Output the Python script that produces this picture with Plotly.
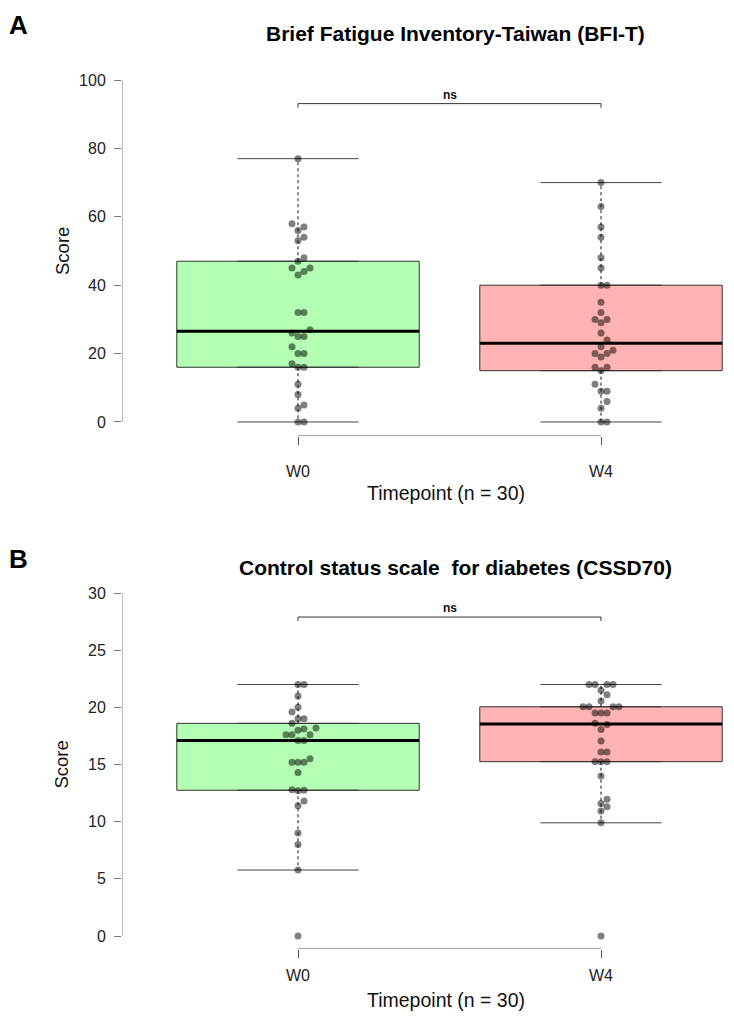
import numpy as np
import plotly.graph_objects as go

# ---------------- data ----------------
categories = ["W0", "W4"]
positions = [1, 2]

bfi_w0 = [77, 58, 57, 56, 54, 53, 48, 47, 45, 45, 44, 43, 32, 32, 27, 26, 25, 25,
          22, 20, 20, 17, 16, 16, 11, 8, 5, 4, 0, 0]
bfi_w4 = [70, 63, 57, 54, 48, 45, 40, 40, 35, 32, 30, 30, 29, 26, 24, 22, 21, 20,
          20, 19, 16, 16, 15, 11, 9, 9, 6, 4, 0, 0]
cssd_w0 = [22, 22, 21, 20, 19.6, 19, 19, 18.6, 18.2, 18.1, 18.0, 17.6, 17.6, 17.6,
           17.1, 17.1, 15.5, 15.2, 15.2, 15.2, 14.3, 12.8, 12.75, 12.7, 11.8, 11.4,
           9, 8, 5.77, 0]
cssd_w4 = [22, 22, 22, 22, 21.5, 21.1, 20.55, 20.05, 20.05, 20.05, 20.05, 19.5, 19.5,
           19.5, 18.6, 18.5, 18.07, 17.06, 16.1, 16.1, 15.25, 15.25, 15.25, 14.0,
           11.96, 11.6, 11.3, 10.93, 9.9, 0]

bfi_ticks = [0, 20, 40, 60, 80, 100]
cssd_ticks = [0, 5, 10, 15, 20, 25, 30]

title_a = "Brief Fatigue Inventory-Taiwan (BFI-T)"
title_b = "Control status scale  for diabetes (CSSD70)"
xlabel = "Timepoint (n = 30)"
ylabel = "Score"
sig_label = "ns"

# ---------------- style / layout ----------------
OFF = 8                      # page body margin
W, H = 718, 1010             # figure size (page is 734 x 1026)


def fx(page_px):
    return (page_px - OFF) / W


def fy(page_px):
    return 1 - (page_px - OFF) / H


FILLS = ["rgb(179,255,179)", "rgb(255,179,179)"]
DOT = "rgba(0,0,0,0.5)"
XRANGE = [0.4191, 2.4125]
X_DOMAIN = [fx(122), 1.0]
PX_PER_X = (W * (X_DOMAIN[1] - X_DOMAIN[0])) / (XRANGE[1] - XRANGE[0])
FONT = "Liberation Sans"

panels = [
    dict(data=[bfi_w0, bfi_w4], ticks=bfi_ticks, yrange=[-4.10, 104.39],
         domain=[fy(436), fy(65)], title=title_a, label="A",
         title_y=33, label_y=8, xlab_y=493, bracket=93.1, bdrop=1.2,
         standoff=13, ax=""),
    dict(data=[cssd_w0, cssd_w4], ticks=cssd_ticks, yrange=[-1.137, 31.14],
         domain=[fy(949), fy(580)], title=title_b, label="B",
         title_y=567, label_y=542, xlab_y=1000, bracket=27.9, bdrop=0.35,
         standoff=4, ax="2"),
]


def fivenum(v):
    x = np.sort(np.asarray(v, dtype=float))
    n = len(x)
    n4 = np.floor((n + 3) / 2) / 2
    d = np.array([1, n4, (n + 1) / 2, n + 1 - n4, n]) - 1
    return 0.5 * (x[np.floor(d).astype(int)] + x[np.ceil(d).astype(int)])


def swarm(values, px_y, px_x, sx=6.0, sy=7.0):
    vals = np.asarray(values, dtype=float)
    order = np.argsort(vals, kind="stable")
    placed = []
    offs = np.zeros(len(vals))
    cands = [0] + [s * k for k in range(1, 12) for s in (1, -1)]
    for i in order:
        y = vals[i] * px_y
        xo = 0.0
        for c in cands:
            xo = c * sx
            if all(((xo - px) / sx) ** 2 + ((y - py) / sy) ** 2 >= 1 - 1e-9
                   for px, py in placed):
                break
        placed.append((xo, y))
        offs[i] = xo / px_x
    return offs


fig = go.Figure()
annotations = []
layout_axes = {}

for p in panels:
    xa, ya = "x" + p["ax"], "y" + p["ax"]
    px_y = (H * (p["domain"][1] - p["domain"][0])) / (p["yrange"][1] - p["yrange"][0])
    for k, (vals, pos) in enumerate(zip(p["data"], positions)):
        arr = np.asarray(vals, dtype=float)
        _, q1, med, q3, _ = fivenum(arr)
        iqr = q3 - q1
        upper = arr[arr <= q3 + 1.5 * iqr].max()
        lower = arr[arr >= q1 - 1.5 * iqr].min()
        fig.add_trace(go.Box(x=[pos], q1=[q1], median=[med], q3=[q3],
                             lowerfence=[q1], upperfence=[q3], width=0.8,
                             fillcolor=FILLS[k], line=dict(color="#333333", width=1),
                             boxpoints=False, hoverinfo="skip", showlegend=False,
                             xaxis=xa, yaxis=ya))
        # dashed whiskers
        for a, b in ((q3, upper), (q1, lower)):
            fig.add_trace(go.Scatter(x=[pos, pos], y=[a, b], mode="lines",
                                     line=dict(color="#111111", width=1, dash="3px,3px"),
                                     hoverinfo="skip", showlegend=False,
                                     xaxis=xa, yaxis=ya))
        # caps
        for v in (upper, lower):
            fig.add_trace(go.Scatter(x=[pos - 0.2, pos + 0.2], y=[v, v], mode="lines",
                                     line=dict(color="#444444", width=1),
                                     hoverinfo="skip", showlegend=False,
                                     xaxis=xa, yaxis=ya))
        # median
        fig.add_trace(go.Scatter(x=[pos - 0.4, pos + 0.4], y=[med, med], mode="lines",
                                 line=dict(color="#000000", width=3),
                                 hoverinfo="skip", showlegend=False,
                                 xaxis=xa, yaxis=ya))
        # beeswarm dots
        offs = swarm(arr, px_y, PX_PER_X)
        fig.add_trace(go.Scatter(x=pos + offs, y=arr, mode="markers",
                                 marker=dict(color=DOT, size=7, line=dict(width=0)),
                                 hoverinfo="skip", showlegend=False,
                                 xaxis=xa, yaxis=ya))
    # R-style axis lines
    fig.add_trace(go.Scatter(x=[XRANGE[0], XRANGE[0]], y=[p["ticks"][0], p["ticks"][-1]],
                             mode="lines", line=dict(color="#777777", width=1),
                             cliponaxis=False, hoverinfo="skip", showlegend=False,
                             xaxis=xa, yaxis=ya))
    fig.add_trace(go.Scatter(x=[positions[0], positions[-1]], y=[p["yrange"][0]] * 2,
                             mode="lines", line=dict(color="#555555", width=1),
                             cliponaxis=False, hoverinfo="skip", showlegend=False,
                             xaxis=xa, yaxis=ya))
    # significance bracket
    b, d = p["bracket"], p["bdrop"]
    fig.add_trace(go.Scatter(x=[positions[0], positions[0], positions[-1], positions[-1]],
                             y=[b - d, b, b, b - d], mode="lines",
                             line=dict(color="#333333", width=1),
                             hoverinfo="skip", showlegend=False, xaxis=xa, yaxis=ya))
    annotations.append(dict(x=1.5, y=b, xref=xa, yref=ya, text="<b>" + sig_label + "</b>",
                            showarrow=False, yanchor="bottom", yshift=0,
                            font=dict(family=FONT, size=12, color="#111")))

    layout_axes["xaxis" + p["ax"]] = dict(
        domain=X_DOMAIN, range=XRANGE, tickvals=positions, ticktext=categories,
        ticks="outside", ticklen=8, tickcolor="#555555", showline=False,
        showgrid=False, zeroline=False, ticklabelstandoff=p["standoff"],
        tickfont=dict(family=FONT, size=16, color="#222222"),
        anchor=ya, fixedrange=True)
    layout_axes["yaxis" + p["ax"]] = dict(
        domain=p["domain"], range=p["yrange"], tickvals=p["ticks"],
        ticks="outside", ticklen=7, tickcolor="#777777", showline=False,
        showgrid=False, zeroline=False, ticklabelstandoff=5,
        tickfont=dict(family=FONT, size=16, color="#222222"),
        anchor=xa, fixedrange=True)

    tick_mid = (p["ticks"][0] + p["ticks"][-1]) / 2
    annotations.append(dict(x=fx(62), y=tick_mid, xref="paper", yref=ya, text=ylabel,
                            textangle=-90, showarrow=False, xanchor="center",
                            yanchor="middle",
                            font=dict(family=FONT, size=18.5, color="#111")))
    annotations.append(dict(x=fx(446), y=fy(p["xlab_y"]), xref="paper", yref="paper",
                            text=xlabel, showarrow=False, xanchor="center",
                            yanchor="middle",
                            font=dict(family=FONT, size=19.5, color="#111")))
    annotations.append(dict(x=fx(455), y=fy(p["title_y"]), xref="paper", yref="paper",
                            text="<b>" + p["title"] + "</b>", showarrow=False,
                            xanchor="center", yanchor="middle",
                            font=dict(family=FONT, size=21, color="#000")))
    annotations.append(dict(x=fx(7), y=fy(p["label_y"]), xref="paper", yref="paper",
                            text="<b>" + p["label"] + "</b>", showarrow=False,
                            xanchor="left", yanchor="top",
                            font=dict(family=FONT, size=26, color="#000")))

fig.update_layout(width=W, height=H, margin=dict(l=0, r=0, t=0, b=0),
                  paper_bgcolor="white", plot_bgcolor="white",
                  annotations=annotations, showlegend=False, boxmode="overlay",
                  **layout_axes)

fig.write_html("out.html")
